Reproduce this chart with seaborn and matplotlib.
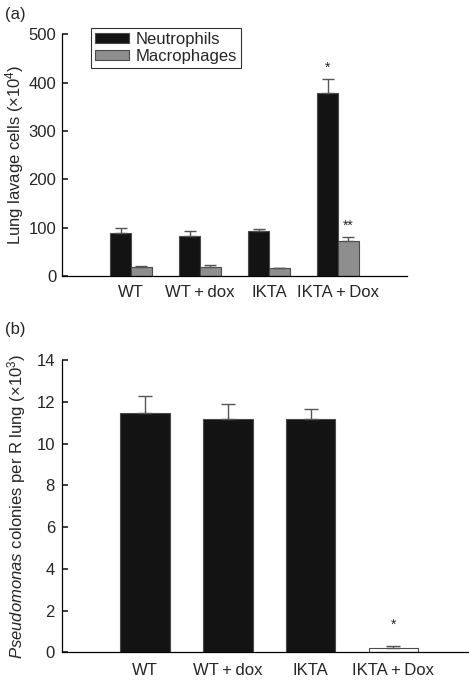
import matplotlib
matplotlib.use("Agg")
import matplotlib.pyplot as plt
import seaborn as sns
import pandas as pd
import numpy as np

groups = ["WT", "WT+dox", "IKTA", "IKTA+Dox"]
tick_labels = ["WT", "WT\u2009+\u2009dox", "IKTA", "IKTA\u2009+\u2009Dox"]
neutrophils = [90, 83, 93, 378]
neutrophils_err = [10, 10, 5, 30]
macrophages = [19, 20, 16, 73]
macrophages_err = [3, 3, 1.5, 9]
colonies = [11.46, 11.17, 11.17, 0.22]
colonies_err = [0.8, 0.73, 0.5, 0.06]

sns.set_theme(style="ticks")
plt.rcParams["font.family"] = ["Liberation Sans", "DejaVu Sans"]
plt.rcParams["mathtext.fontset"] = "custom"
plt.rcParams["mathtext.rm"] = "Liberation Sans"
plt.rcParams["mathtext.it"] = "Liberation Sans:italic"

fs = 12
fig = plt.figure(figsize=(4.69, 6.82), dpi=100)
ax1 = fig.add_axes([0.132, 0.595, 0.736, 0.355])
ax2 = fig.add_axes([0.132, 0.0435, 0.866, 0.4285])

# ---- panel a
df_a = pd.DataFrame({
    "group": groups * 2,
    "cell": ["Neutrophils"] * 4 + ["Macrophages"] * 4,
    "value": neutrophils + macrophages,
})
sns.barplot(data=df_a, x="group", y="value", hue="cell", order=groups,
            hue_order=["Neutrophils", "Macrophages"],
            palette=["#131313", "#8e8e8e"], width=0.6, errorbar=None,
            edgecolor="#4a4a4a", linewidth=0.8, ax=ax1)
bars = [p for p in ax1.patches if p.get_height() > 0]
errs = neutrophils_err + macrophages_err
for p, e in zip(bars, errs):
    xc = p.get_x() + p.get_width() / 2
    h = p.get_height()
    ax1.errorbar([xc], [h], yerr=[[0], [e]], fmt="none", ecolor="#555555",
                 elinewidth=1.0, capsize=4, capthick=1.0)
# significance marks
nb = bars[3]
ax1.text(nb.get_x() + nb.get_width() / 2, neutrophils[3] + neutrophils_err[3] + 22, "*",
         ha="center", va="center", fontsize=10)
mb = bars[7]
ax1.text(mb.get_x() + mb.get_width() / 2, macrophages[3] + macrophages_err[3] + 22, "**",
         ha="center", va="center", fontsize=10)

ax1.set_xlim(-1, 4)
ax1.set_ylim(0, 500)
ax1.set_yticks([0, 100, 200, 300, 400, 500])
ax1.set_xticks(range(4))
ax1.set_xticklabels(tick_labels, fontsize=fs)
ax1.tick_params(axis="y", direction="in", length=4, labelsize=fs, pad=4)
ax1.tick_params(axis="x", length=0, pad=6)
ax1.set_xlabel("")
ax1.set_ylabel(r"Lung lavage cells (×10$^{4}$)", fontsize=fs, labelpad=2)
sns.despine(ax=ax1)
leg = ax1.legend(loc="upper left", bbox_to_anchor=(0.085, 1.025), fontsize=fs,
                 frameon=True, fancybox=False, edgecolor="black",
                 handlelength=2.0, handleheight=0.55, borderpad=0.25,
                 labelspacing=0.1, handletextpad=0.4, borderaxespad=0.0)
leg.get_frame().set_linewidth(0.8)
for h in leg.legend_handles:
    h.set_edgecolor("#4a4a4a")

# ---- panel b
df_b = pd.DataFrame({"group": groups, "value": colonies})
sns.barplot(data=df_b, x="group", y="value", order=groups,
            palette=["#131313", "#131313", "#131313", "#ffffff"], hue="group",
            legend=False, width=0.6, errorbar=None,
            edgecolor="#4a4a4a", linewidth=0.8, ax=ax2)
bars2 = [p for p in ax2.patches if p.get_height() > 0]
for p, e in zip(bars2, colonies_err):
    xc = p.get_x() + p.get_width() / 2
    h = p.get_height()
    ax2.errorbar([xc], [h], yerr=[[0], [e]], fmt="none", ecolor="#555555",
                 elinewidth=1.0, capsize=5, capthick=1.0)
lb = bars2[3]
ax2.text(lb.get_x() + lb.get_width() / 2, 1.3, "*", ha="center", va="center", fontsize=10)

ax2.set_xlim(-1, 3.9)
ax2.set_ylim(0, 14)
ax2.set_yticks(range(0, 15, 2))
ax2.set_xticks(range(4))
ax2.set_xticklabels(tick_labels, fontsize=fs)
ax2.tick_params(axis="y", direction="in", length=4, labelsize=fs, pad=5)
ax2.tick_params(axis="x", length=0, pad=8)
ax2.set_xlabel("")
ax2.set_ylabel(r"$\mathit{Pseudomonas}$ colonies per R lung (×10$^{3}$)", fontsize=fs, labelpad=6)
sns.despine(ax=ax2)

for ax in (ax1, ax2):
    for s in ("left", "bottom"):
        ax.spines[s].set_linewidth(0.9)
        ax.spines[s].set_color("black")

fig.text(0.01, 0.99, "(a)", fontsize=fs, ha="left", va="top")
fig.text(0.01, 0.528, "(b)", fontsize=fs, ha="left", va="top")

fig.savefig("out.png", dpi=100, facecolor="white")
